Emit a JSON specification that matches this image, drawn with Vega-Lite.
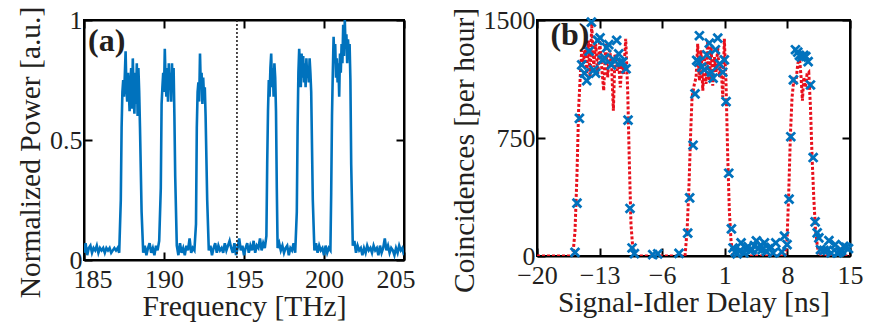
{
  "$schema": "https://vega.github.io/schema/vega-lite/v6.json",
  "background": "white",
  "padding": {"left": 14, "top": 5, "right": 4, "bottom": 0},
  "spacing": 31,
  "config": {
    "view": {"stroke": "black", "strokeWidth": 2},
    "font": "Liberation Serif",
    "axis": {
      "grid": false,
      "labelFont": "Liberation Serif",
      "labelFontSize": 26,
      "labelColor": "#231f20",
      "labelFlush": false,
      "labelOverlap": false,
      "titleFont": "Liberation Serif",
      "titleFontSize": 29.5,
      "titleFontWeight": "normal",
      "titleColor": "#231f20",
      "domainColor": "black",
      "domainWidth": 2,
      "tickColor": "black",
      "tickWidth": 2,
      "tickSize": -8,
      "labelPadding": 14,
      "titlePadding": 4
    },
    "axisX": {"labelPadding": 14, "titlePadding": 0},
    "axisY": {"labelPadding": 10, "titlePadding": 4}
  },
  "datasets": {
    "spectrum": [
      {"f":185.0,"p":0.03},{"f":185.1,"p":0.07},{"f":185.2,"p":0.02},{"f":185.3,"p":0.05},{"f":185.4,"p":0.06},{"f":185.5,"p":0.03},{"f":185.6,"p":0.05},{"f":185.7,"p":0.04},{"f":185.8,"p":0.06},{"f":185.9,"p":0.03},
      {"f":186.0,"p":0.05},{"f":186.1,"p":0.04},{"f":186.2,"p":0.05},{"f":186.3,"p":0.03},{"f":186.4,"p":0.05},{"f":186.5,"p":0.04},{"f":186.6,"p":0.05},{"f":186.7,"p":0.03},{"f":186.8,"p":0.04},{"f":186.9,"p":0.05},
      {"f":187.0,"p":0.04},{"f":187.1,"p":0.05},{"f":187.2,"p":0.03},{"f":187.3,"p":0.25},{"f":187.35,"p":0.55},{"f":187.4,"p":0.70},{"f":187.45,"p":0.75},{"f":187.5,"p":0.68},{"f":187.55,"p":0.77},{"f":187.6,"p":0.87},
      {"f":187.65,"p":0.72},{"f":187.7,"p":0.66},{"f":187.75,"p":0.78},{"f":187.8,"p":0.70},{"f":187.85,"p":0.62},{"f":187.9,"p":0.74},{"f":187.95,"p":0.80},{"f":188.0,"p":0.63},{"f":188.05,"p":0.84},{"f":188.1,"p":0.70},
      {"f":188.15,"p":0.61},{"f":188.2,"p":0.78},{"f":188.25,"p":0.65},{"f":188.3,"p":0.82},{"f":188.35,"p":0.60},{"f":188.4,"p":0.80},{"f":188.45,"p":0.70},{"f":188.5,"p":0.55},{"f":188.6,"p":0.20},{"f":188.7,"p":0.03},
      {"f":188.8,"p":0.06},{"f":188.9,"p":0.02},{"f":189.0,"p":0.05},{"f":189.1,"p":0.07},{"f":189.2,"p":0.03},{"f":189.3,"p":0.05},{"f":189.4,"p":0.02},{"f":189.5,"p":0.06},{"f":189.6,"p":0.04},{"f":189.7,"p":0.08},
      {"f":189.8,"p":0.30},{"f":189.85,"p":0.65},{"f":189.9,"p":0.72},{"f":189.95,"p":0.78},{"f":190.0,"p":0.70},{"f":190.05,"p":0.88},{"f":190.1,"p":0.74},{"f":190.15,"p":0.68},{"f":190.2,"p":0.80},{"f":190.25,"p":0.66},
      {"f":190.3,"p":0.82},{"f":190.35,"p":0.71},{"f":190.4,"p":0.78},{"f":190.45,"p":0.66},{"f":190.5,"p":0.82},{"f":190.55,"p":0.70},{"f":190.6,"p":0.80},{"f":190.65,"p":0.60},{"f":190.7,"p":0.35},{"f":190.8,"p":0.06},
      {"f":190.9,"p":0.02},{"f":191.0,"p":0.07},{"f":191.1,"p":0.03},{"f":191.2,"p":0.05},{"f":191.3,"p":0.02},{"f":191.4,"p":0.06},{"f":191.5,"p":0.04},{"f":191.6,"p":0.09},{"f":191.7,"p":0.03},{"f":191.8,"p":0.05},
      {"f":191.9,"p":0.04},{"f":192.0,"p":0.15},{"f":192.05,"p":0.55},{"f":192.1,"p":0.70},{"f":192.15,"p":0.74},{"f":192.2,"p":0.66},{"f":192.25,"p":0.86},{"f":192.3,"p":0.72},{"f":192.35,"p":0.78},{"f":192.4,"p":0.65},
      {"f":192.45,"p":0.76},{"f":192.5,"p":0.68},{"f":192.55,"p":0.72},{"f":192.6,"p":0.60},{"f":192.7,"p":0.25},{"f":192.8,"p":0.04},{"f":192.9,"p":0.06},{"f":193.0,"p":0.02},{"f":193.1,"p":0.05},{"f":193.2,"p":0.07},
      {"f":193.3,"p":0.03},{"f":193.4,"p":0.06},{"f":193.5,"p":0.04},{"f":193.6,"p":0.05},{"f":193.7,"p":0.03},{"f":193.8,"p":0.07},{"f":193.9,"p":0.04},{"f":194.0,"p":0.06},{"f":194.1,"p":0.08},{"f":194.2,"p":0.05},
      {"f":194.3,"p":0.03},{"f":194.4,"p":0.07},{"f":194.5,"p":0.02},{"f":194.6,"p":0.05},{"f":194.7,"p":0.09},{"f":194.8,"p":0.04},{"f":194.9,"p":0.06},{"f":195.0,"p":0.02},{"f":195.1,"p":0.05},{"f":195.2,"p":0.07},
      {"f":195.3,"p":0.03},{"f":195.4,"p":0.06},{"f":195.5,"p":0.04},{"f":195.6,"p":0.08},{"f":195.7,"p":0.03},{"f":195.8,"p":0.06},{"f":195.9,"p":0.05},{"f":196.0,"p":0.09},{"f":196.1,"p":0.04},{"f":196.2,"p":0.07},
      {"f":196.3,"p":0.05},{"f":196.4,"p":0.10},{"f":196.45,"p":0.40},{"f":196.5,"p":0.62},{"f":196.55,"p":0.75},{"f":196.6,"p":0.68},{"f":196.65,"p":0.80},{"f":196.7,"p":0.86},{"f":196.75,"p":0.72},{"f":196.8,"p":0.80},
      {"f":196.85,"p":0.68},{"f":196.9,"p":0.82},{"f":196.95,"p":0.76},{"f":197.0,"p":0.62},{"f":197.05,"p":0.30},{"f":197.1,"p":0.05},{"f":197.2,"p":0.07},{"f":197.3,"p":0.04},{"f":197.4,"p":0.06},{"f":197.5,"p":0.03},
      {"f":197.6,"p":0.05},{"f":197.7,"p":0.06},{"f":197.8,"p":0.02},{"f":197.9,"p":0.05},{"f":198.0,"p":0.04},{"f":198.1,"p":0.07},{"f":198.2,"p":0.03},{"f":198.3,"p":0.20},{"f":198.35,"p":0.55},{"f":198.4,"p":0.78},
      {"f":198.45,"p":0.88},{"f":198.5,"p":0.80},{"f":198.55,"p":0.72},{"f":198.6,"p":0.86},{"f":198.65,"p":0.76},{"f":198.7,"p":0.85},{"f":198.75,"p":0.74},{"f":198.8,"p":0.82},{"f":198.85,"p":0.72},{"f":198.9,"p":0.84},
      {"f":198.95,"p":0.76},{"f":199.0,"p":0.80},{"f":199.05,"p":0.74},{"f":199.1,"p":0.84},{"f":199.15,"p":0.78},{"f":199.2,"p":0.70},{"f":199.3,"p":0.25},{"f":199.4,"p":0.04},{"f":199.5,"p":0.07},{"f":199.6,"p":0.03},
      {"f":199.7,"p":0.06},{"f":199.8,"p":0.04},{"f":199.9,"p":0.05},{"f":200.0,"p":0.02},{"f":200.1,"p":0.06},{"f":200.2,"p":0.03},{"f":200.3,"p":0.05},{"f":200.4,"p":0.04},{"f":200.45,"p":0.28},{"f":200.5,"p":0.60},
      {"f":200.55,"p":0.78},{"f":200.6,"p":0.93},{"f":200.65,"p":0.82},{"f":200.7,"p":0.90},{"f":200.75,"p":0.76},{"f":200.8,"p":0.84},{"f":200.85,"p":0.74},{"f":200.9,"p":0.82},{"f":200.95,"p":0.68},{"f":201.0,"p":0.86},
      {"f":201.05,"p":0.78},{"f":201.1,"p":0.90},{"f":201.15,"p":0.82},{"f":201.2,"p":0.98},{"f":201.25,"p":0.85},{"f":201.3,"p":1.00},{"f":201.35,"p":0.88},{"f":201.4,"p":0.94},{"f":201.45,"p":0.82},{"f":201.5,"p":0.92},
      {"f":201.55,"p":0.86},{"f":201.6,"p":0.90},{"f":201.65,"p":0.75},{"f":201.7,"p":0.40},{"f":201.8,"p":0.06},{"f":201.9,"p":0.08},{"f":202.0,"p":0.03},{"f":202.1,"p":0.06},{"f":202.2,"p":0.04},{"f":202.3,"p":0.05},
      {"f":202.4,"p":0.02},{"f":202.5,"p":0.05},{"f":202.6,"p":0.03},{"f":202.7,"p":0.06},{"f":202.8,"p":0.04},{"f":202.9,"p":0.05},{"f":203.0,"p":0.03},{"f":203.1,"p":0.06},{"f":203.2,"p":0.04},{"f":203.3,"p":0.05},
      {"f":203.4,"p":0.02},{"f":203.5,"p":0.06},{"f":203.6,"p":0.03},{"f":203.7,"p":0.05},{"f":203.8,"p":0.09},{"f":203.9,"p":0.04},{"f":204.0,"p":0.06},{"f":204.1,"p":0.03},{"f":204.2,"p":0.05},{"f":204.3,"p":0.04},
      {"f":204.4,"p":0.02},{"f":204.5,"p":0.05},{"f":204.6,"p":0.03},{"f":204.7,"p":0.06},{"f":204.8,"p":0.04},{"f":204.9,"p":0.05},{"f":205.0,"p":0.02}
    ],
    "fit": [
      {"t":-20,"c":0},{"t":-16.0,"c":0},{"t":-15.75,"c":157},{"t":-15.53,"c":519},{"t":-15.34,"c":945},{"t":-15.15,"c":1157},{"t":-15.0,"c":1307},{"t":-14.82,"c":1221},{"t":-14.63,"c":1328},{"t":-14.44,"c":1157},
      {"t":-14.26,"c":1370},{"t":-14.07,"c":1136},{"t":-13.88,"c":1477},{"t":-13.66,"c":1200},{"t":-13.44,"c":1349},{"t":-13.21,"c":1157},{"t":-12.99,"c":1370},{"t":-12.77,"c":1200},{"t":-12.54,"c":1051},{"t":-12.32,"c":1349},
      {"t":-12.1,"c":1136},{"t":-11.87,"c":1307},{"t":-11.65,"c":1200},{"t":-11.46,"c":924},{"t":-11.28,"c":1285},{"t":-11.05,"c":1179},{"t":-10.86,"c":1221},{"t":-10.68,"c":1072},{"t":-10.49,"c":1243},{"t":-10.31,"c":1157},
      {"t":-10.08,"c":1381},{"t":-9.86,"c":1051},{"t":-9.67,"c":583},{"t":-9.49,"c":200},{"t":-9.26,"c":30},{"t":-9.04,"c":0},{"t":-3.45,"c":0},{"t":-3.22,"c":157},{"t":-3.0,"c":455},{"t":-2.81,"c":796},
      {"t":-2.66,"c":1009},{"t":-2.4,"c":1094},{"t":-2.21,"c":1136},{"t":-2.03,"c":1349},{"t":-1.84,"c":1115},{"t":-1.65,"c":1307},{"t":-1.46,"c":1051},{"t":-1.28,"c":1264},{"t":-1.09,"c":1094},{"t":-0.91,"c":1370},
      {"t":-0.72,"c":1115},{"t":-0.53,"c":1328},{"t":-0.35,"c":1083},{"t":-0.16,"c":1264},{"t":0.02,"c":1170},{"t":0.21,"c":1328},{"t":0.4,"c":1136},{"t":0.58,"c":1221},{"t":0.77,"c":1009},{"t":0.95,"c":1381},
      {"t":1.14,"c":1094},{"t":1.33,"c":626},{"t":1.51,"c":285},{"t":1.7,"c":94},{"t":1.92,"c":0},{"t":7.78,"c":0},{"t":7.96,"c":106},{"t":8.15,"c":404},{"t":8.34,"c":775},{"t":8.52,"c":1009},
      {"t":8.71,"c":1115},{"t":8.93,"c":1094},{"t":9.16,"c":1221},{"t":9.35,"c":1264},{"t":9.53,"c":1136},{"t":9.68,"c":987},{"t":9.83,"c":1136},{"t":10.01,"c":1072},{"t":10.2,"c":1157},{"t":10.39,"c":1168},
      {"t":10.58,"c":945},{"t":10.76,"c":626},{"t":10.95,"c":370},{"t":11.13,"c":179},{"t":11.33,"c":72},{"t":11.52,"c":0},{"t":15,"c":0}
    ],
    "meas": [
      {"t":-15.75,"c":23},{"t":-15.53,"c":336},{"t":-15.26,"c":875},{"t":-15.0,"c":1215},{"t":-14.7,"c":1162},{"t":-14.44,"c":1115},{"t":-14.18,"c":1302},{"t":-13.92,"c":1487},{"t":-13.66,"c":1183},{"t":-13.44,"c":1162},
      {"t":-13.21,"c":1370},{"t":-12.95,"c":1387},{"t":-12.69,"c":1247},{"t":-12.43,"c":1258},{"t":-12.21,"c":1324},{"t":-11.98,"c":1343},{"t":-11.69,"c":1215},{"t":-11.42,"c":1247},{"t":-11.09,"c":1370},{"t":-10.86,"c":1285},
      {"t":-10.68,"c":1232},{"t":-10.42,"c":1232},{"t":-10.04,"c":1190},{"t":-9.82,"c":864},{"t":-9.6,"c":302},{"t":-9.37,"c":51},{"t":-9.11,"c":15},
      {"t":-7.06,"c":9},{"t":-6.5,"c":13},{"t":-4.12,"c":17},{"t":-3.15,"c":145},{"t":-2.93,"c":370},{"t":-2.55,"c":704},{"t":-2.33,"c":1030},{"t":-2.14,"c":1243},{"t":-1.84,"c":1400},
      {"t":-1.92,"c":1232},{"t":-1.58,"c":1200},{"t":-1.28,"c":1185},{"t":-1.02,"c":1279},{"t":-0.73,"c":1353},{"t":-0.5,"c":1168},{"t":-0.31,"c":1130},{"t":-0.05,"c":1311},{"t":0.21,"c":1385},{"t":0.43,"c":1221},
      {"t":0.77,"c":1168},{"t":0.95,"c":1247},{"t":1.14,"c":981},{"t":1.44,"c":526},{"t":1.74,"c":172},{"t":1.92,"c":51},{"t":2.15,"c":26},{"t":2.37,"c":13},{"t":2.63,"c":30},{"t":2.82,"c":83},
      {"t":3.12,"c":19},{"t":3.38,"c":47},{"t":3.6,"c":60},{"t":3.82,"c":34},{"t":4.05,"c":40},{"t":4.31,"c":66},{"t":4.53,"c":96},{"t":4.76,"c":47},{"t":4.98,"c":68},{"t":5.17,"c":40},
      {"t":5.43,"c":83},{"t":5.65,"c":30},{"t":5.91,"c":47},{"t":6.17,"c":55},{"t":6.4,"c":19},{"t":6.7,"c":83},{"t":7.37,"c":26},{"t":7.67,"c":126},{"t":7.96,"c":72},{"t":8.19,"c":362},
      {"t":8.38,"c":758},{"t":8.67,"c":1119},{"t":8.9,"c":1311},{"t":9.16,"c":1296},{"t":9.35,"c":1275},{"t":9.57,"c":1264},{"t":9.83,"c":1275},{"t":10.06,"c":1268},{"t":10.32,"c":1236},{"t":10.58,"c":1087},
      {"t":10.88,"c":626},{"t":11.1,"c":217},{"t":11.33,"c":147},{"t":11.52,"c":115},{"t":11.7,"c":40},{"t":12.08,"c":36},{"t":12.45,"c":36},{"t":12.64,"c":98},{"t":12.9,"c":19},{"t":13.35,"c":72},
      {"t":13.57,"c":19},{"t":13.83,"c":26},{"t":14.05,"c":34},{"t":14.3,"c":62},{"t":14.56,"c":55},{"t":14.83,"c":47}
    ]
  },
  "hconcat": [
    {
      "width": 320,
      "height": 240,
      "layer": [
        {
          "layer": [
            {
              "data": {"name": "spectrum"},
              "mark": {"type": "line", "color": "#0072BD", "strokeWidth": 2.6, "clip": true},
              "encoding": {
                "x": {"field": "f", "type": "quantitative", "scale": {"domain": [185, 205], "nice": false, "zero": false},
                      "axis": {"values": [185, 190, 195, 200, 205], "title": "Frequency [THz]", "orient": "bottom", "labelFlush": true, "labelFlushOffset": 11}},
                "y": {"field": "p", "type": "quantitative", "scale": {"domain": [0, 1], "nice": false},
                      "axis": {"values": [0, 0.5, 1], "format": ".1~f", "title": "Normalized Power [a.u.]", "orient": "left", "titleY": 132}}
              }
            },
            {
              "data": {"values": [{}]},
              "mark": {"type": "rule", "color": "#231f20", "strokeWidth": 1.6, "strokeDash": [2, 2]},
              "encoding": {"x": {"datum": 194.56, "type": "quantitative"}}
            },
            {
              "data": {"values": [{}]},
              "mark": {"type": "text", "font": "Liberation Serif", "fontWeight": "bold", "fontSize": 32, "align": "left", "baseline": "alphabetic", "color": "#231f20"},
              "encoding": {"x": {"datum": 185.25, "type": "quantitative"}, "y": {"datum": 0.87, "type": "quantitative"}, "text": {"value": "(a)"}}
            }
          ]
        },
        {
          "data": {"values": [{}]},
          "mark": {"type": "point", "opacity": 0},
          "encoding": {
            "x": {"datum": 185, "type": "quantitative", "axis": {"orient": "top", "values": [185, 190, 195, 200, 205], "labels": false, "title": null, "labelPadding": 0}},
            "y": {"datum": 0, "type": "quantitative", "axis": {"orient": "right", "values": [0, 0.5, 1], "labels": false, "title": null, "labelPadding": 0}}
          }
        }
      ],
      "resolve": {"axis": {"x": "independent", "y": "independent"}}
    },
    {
      "width": 313,
      "height": 236,
      "layer": [
        {
          "layer": [
            {
              "data": {"name": "fit"},
              "mark": {"type": "line", "color": "#e8101c", "strokeWidth": 3, "strokeDash": [3, 2], "clip": true},
              "encoding": {
                "x": {"field": "t", "type": "quantitative", "scale": {"domain": [-20, 15], "nice": false, "zero": false},
                      "axis": {"values": [-20, -13, -6, 1, 8, 15], "title": "Signal-Idler Delay [ns]", "orient": "bottom"}},
                "y": {"field": "c", "type": "quantitative", "scale": {"domain": [0, 1500], "nice": false},
                      "axis": {"values": [0, 750, 1500], "format": "d", "title": "Coincidences [per hour]", "orient": "left", "titleY": 130}}
              }
            },
            {
              "data": {"name": "meas"},
              "mark": {"type": "point", "shape": "M-1,-1L1,1M1,-1L-1,1", "filled": false, "color": "#0072BD", "strokeWidth": 2.8, "size": 76, "opacity": 1},
              "encoding": {
                "x": {"field": "t", "type": "quantitative"},
                "y": {"field": "c", "type": "quantitative"}
              }
            },
            {
              "data": {"values": [{}]},
              "mark": {"type": "text", "font": "Liberation Serif", "fontWeight": "bold", "fontSize": 32, "align": "left", "baseline": "alphabetic", "color": "#231f20"},
              "encoding": {"x": {"datum": -18.5, "type": "quantitative"}, "y": {"datum": 1340, "type": "quantitative"}, "text": {"value": "(b)"}}
            }
          ]
        },
        {
          "data": {"values": [{}]},
          "mark": {"type": "point", "opacity": 0},
          "encoding": {
            "x": {"datum": -20, "type": "quantitative", "axis": {"orient": "top", "values": [-20, -13, -6, 1, 8, 15], "labels": false, "title": null, "labelPadding": 0}},
            "y": {"datum": 0, "type": "quantitative", "axis": {"orient": "right", "values": [0, 750, 1500], "labels": false, "title": null, "labelPadding": 0}}
          }
        }
      ],
      "resolve": {"axis": {"x": "independent", "y": "independent"}}
    }
  ]
}
